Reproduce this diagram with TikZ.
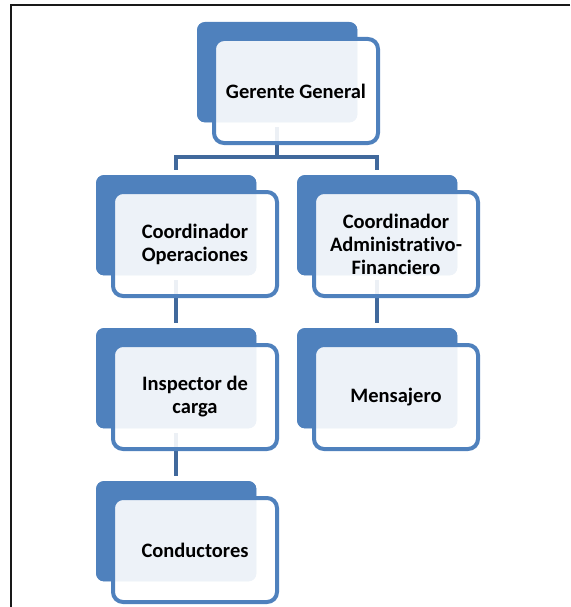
\documentclass[tikz,border=0pt]{standalone}
\usepackage{fontspec}
\setmainfont{Carlito}[Ligatures=CommonOff]
\definecolor{acc}{HTML}{4F81BD}
\definecolor{link}{HTML}{41699C}
\tikzset{
  back/.style={fill=acc, draw=none, rounded corners=8pt, inner sep=0pt,
    minimum width=160pt, minimum height=100pt, anchor=north west},
  front/.style={draw=acc, line width=4pt, fill=white, fill opacity=0.9,
    text opacity=1, rounded corners=10pt, inner sep=0pt,
    minimum width=164pt, minimum height=104pt, anchor=north west,
    xshift=15pt, yshift=-15pt, align=center,
    font=\fontsize{20.5}{23}\selectfont\bfseries},
  conn/.style={draw=link, line width=4.5pt, shorten <=5pt, shorten >=5pt}
}
\begin{document}
\begin{tikzpicture}[x=1pt, y=-1pt]
\useasboundingbox (0,0) rectangle (570,607);
% page frame
\draw[line width=2.2pt, black!90] (570,5) -- (11,5) -- (11,607);
% back plates
\node[back] (gb) at (197,22) {};
\node[back] (ob) at (96,175) {};
\node[back] (ab) at (297,175) {};
\node[back] (ib) at (96,328) {};
\node[back] (mb) at (297,328) {};
\node[back] (cb) at (96,481) {};
% connectors
\coordinate (bar) at (277,157);
\draw[conn] (gb.south) -- (gb.south |- bar) -| (ob.north);
\draw[conn] (gb.south) -- (gb.south |- bar) -| (ab.north);
\draw[conn] (ob.south) -- (ib.north);
\draw[conn] (ib.south) -- (cb.north);
\draw[conn] (ab.south) -- (mb.north);
% back plates again over connectors
\foreach \n in {gb,ob,ab,ib,mb,cb} {
  \fill[acc, rounded corners=8pt] (\n.north west) rectangle (\n.south east);
}
% front cards
\node[front] (g) at (gb.north west) {Gerente General};
\node[front] (o) at (ob.north west) {Coordinador\\Operaciones};
\node[front] (a) at (ab.north west) {Coordinador\\Administrativo-\\Financiero};
\node[front] (i) at (ib.north west) {Inspector de\\carga};
\node[front] (m) at (mb.north west) {Mensajero};
\node[front] (c) at (cb.north west) {Conductores};
\end{tikzpicture}
\end{document}
